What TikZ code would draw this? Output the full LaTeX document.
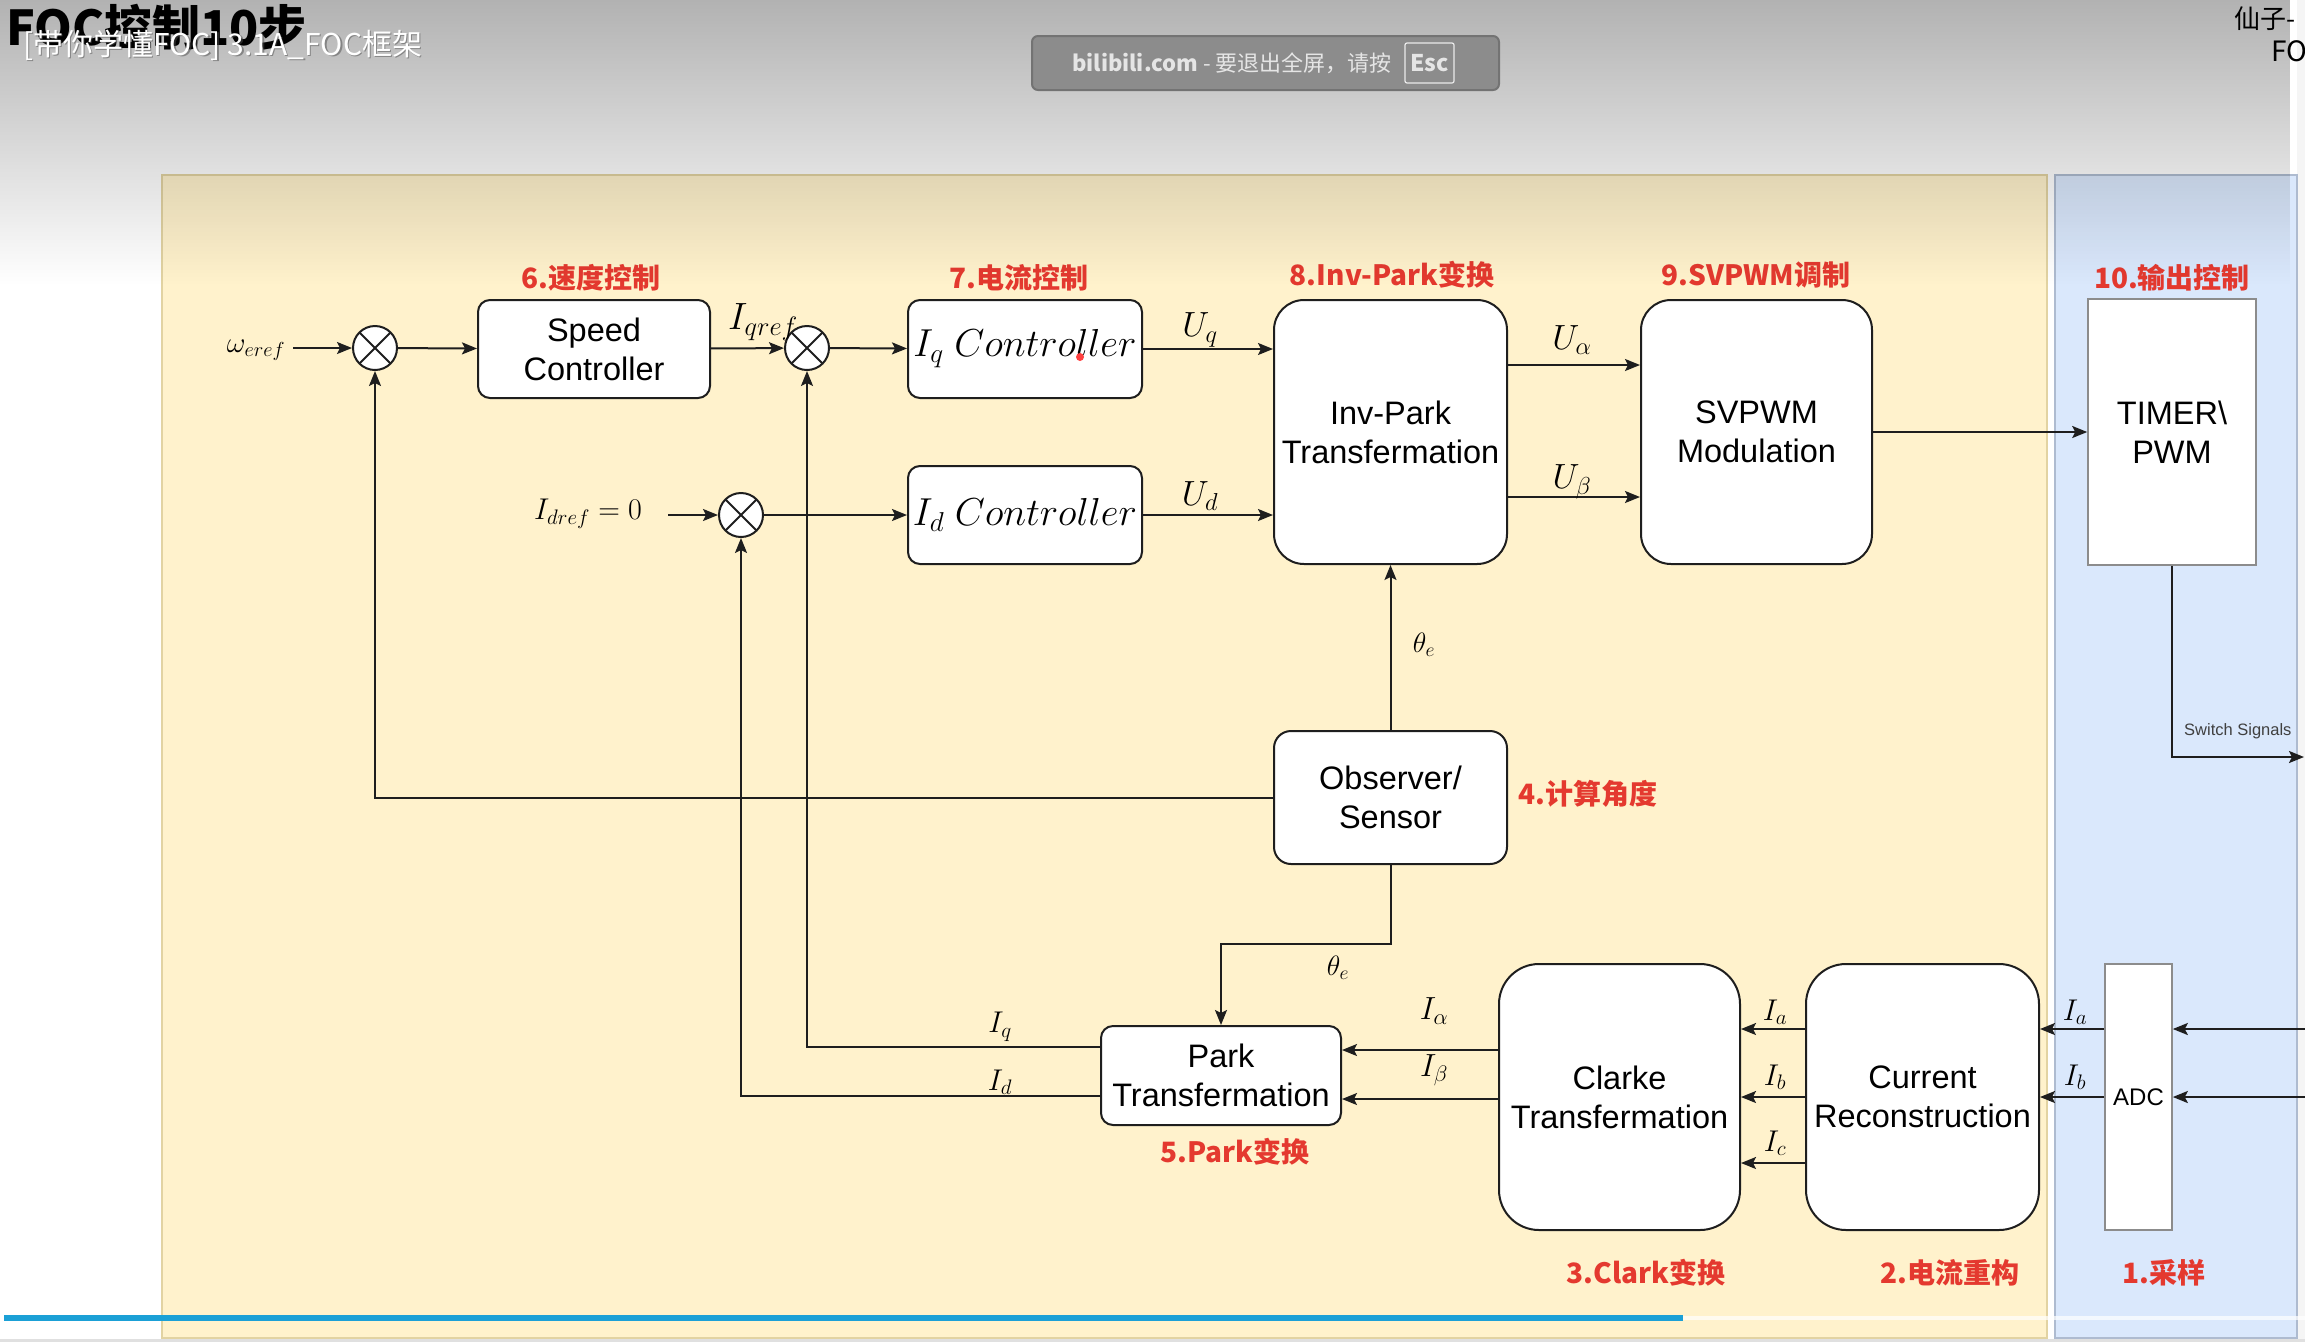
\RequirePackage{fix-cm}
\documentclass[tikz,border=0pt]{standalone}
\usepackage{fontspec}
\setmainfont{Liberation Sans}
\newfontfamily\cjk{Noto Sans CJK SC}
\newfontfamily\arial{Liberation Sans}
\usetikzlibrary{arrows.meta,fadings}
\definecolor{panelY}{HTML}{FFF2CC}
\definecolor{panelYb}{HTML}{E2D3A2}
\definecolor{panelB}{HTML}{DAE8FC}
\definecolor{panelBb}{HTML}{AEBBD0}
\definecolor{redlbl}{RGB}{228,57,47}
\definecolor{linec}{HTML}{1E1E1E}
\definecolor{barblue}{HTML}{1BA0D6}
\tikzfading[name=topfade, top color=transparent!0, bottom color=transparent!100]
\begin{document}
\begin{tikzpicture}[x=1pt,y=-1pt,
  box/.style={draw=linec, line width=2pt, fill=white, align=center, inner sep=0pt,
    font=\arial\fontsize{32.5}{39}\selectfont},
  sqbox/.style={draw=black!45, line width=1.6pt, fill=white, align=center, inner sep=0pt,
    font=\arial\fontsize{32.5}{39}\selectfont},
  sumj/.style={circle, draw=linec, line width=2pt, fill=white, minimum size=44pt, inner sep=0pt,
    path picture={\draw[line width=1.8pt, linec]
      (path picture bounding box.north west) -- (path picture bounding box.south east)
      (path picture bounding box.south west) -- (path picture bounding box.north east);}},
  ln/.style={draw=linec, line width=2pt},
  arr/.style={ln, -{Stealth[length=15pt,width=12pt,inset=3pt]}},
  blbl/.style={inner sep=0pt, font=\fontsize{35}{37}\selectfont},
  mlbl/.style={inner sep=0pt, font=\fontsize{32}{34}\selectfont},
  slbl/.style={inner sep=0pt, font=\fontsize{30}{32}\selectfont},
  tlbl/.style={inner sep=0pt, font=\fontsize{28}{30}\selectfont},
  redt/.style={inner sep=0pt, text=redlbl, font=\cjk\bfseries\fontsize{28}{30}\selectfont},
]
\useasboundingbox (0,0) rectangle (2305,1342);
% background and panels
\fill[white] (0,0) rectangle (2305,1342);
\fill[black!4] (2297,0) rectangle (2305,1342);
\filldraw[fill=panelY, draw=panelYb, line width=1.5pt] (162,175) rectangle (2047,1338);
\filldraw[fill=panelB, draw=panelBb, line width=1.5pt] (2055,175) rectangle (2297,1338);
\fill[black!12] (0,1339) rectangle (2305,1342);

% ---------- blocks ----------
\node[sumj] (sum1) at (375,348) {};
\node[box, rounded corners=12pt, minimum width=232pt, minimum height=98pt] (speed) at (594,349) {Speed\\Controller};
\node[sumj] (sum2) at (807,348) {};
\node[box, rounded corners=12pt, minimum width=234pt, minimum height=98pt, font=\fontsize{39}{44}\selectfont] (iqc) at (1025,349) {$I_q\ Controller$};
\node[sumj] (sum3) at (741,515) {};
\node[box, rounded corners=12pt, minimum width=234pt, minimum height=98pt, font=\fontsize{39}{44}\selectfont] (idc) at (1025,515) {$I_d\ Controller$};
\node[box, rounded corners=30pt, minimum width=233pt, minimum height=264pt] (invpark) at (1390.5,432) {Inv-Park\\Transfermation};
\node[box, rounded corners=30pt, minimum width=231pt, minimum height=264pt] (svpwm) at (1756.5,432) {SVPWM\\Modulation};
\node[sqbox, minimum width=168pt, minimum height=266pt] (timer) at (2172,432) {TIMER\textbackslash\\PWM};
\node[box, rounded corners=17pt, minimum width=233pt, minimum height=133pt] (obs) at (1390.5,797.5) {Observer/\\Sensor};
\node[box, rounded corners=12pt, minimum width=240pt, minimum height=99pt] (park) at (1221,1075.5) {Park\\Transfermation};
\node[box, rounded corners=40pt, minimum width=241pt, minimum height=266pt] (clarke) at (1619.5,1097) {Clarke\\Transfermation};
\node[box, rounded corners=40pt, minimum width=233pt, minimum height=266pt] (currec) at (1922.5,1097) {Current\\Reconstruction};
\node[sqbox, minimum width=67pt, minimum height=266pt, font=\arial\fontsize{24}{28}\selectfont] (adc) at (2138.5,1097) {ADC};

% ---------- input labels ----------
\node[slbl, font=\fontsize{29}{31}\selectfont] (wref) at (256,350) {$\omega_{eref}$};
\node[slbl] (idref) at (588,514) {$I_{dref}=0$};

% ---------- connectors ----------
\draw[arr] (293,348) -- (sum1.west);
\draw[arr] (sum1) -- (speed);
\draw[arr] (speed) -- (sum2);
\draw[arr] (sum2) -- (iqc);
\draw[arr] (iqc.east) -- (iqc.east -| invpark.west);
\draw[arr] (668,515) -- (sum3.west);
\draw[arr] (sum3) -- (idc);
\draw[arr] (idc.east) -- (idc.east -| invpark.west);
\draw[arr] ([yshift=67pt]invpark.east) -- ([yshift=67pt]svpwm.west);
\draw[arr] ([yshift=-65pt]invpark.east) -- ([yshift=-65pt]svpwm.west);
\draw[arr] (svpwm) -- (timer);
\coordinate (sw) at (2304,757);
\draw[arr] (timer.south) |- (sw);
\draw[arr] (obs) -- (invpark);
\draw[arr] (obs.west) -| (sum1.south);
\draw[arr] (obs.south) -- ++(0,79) -| (park.north);
\draw[arr] ([yshift=28.5pt]park.west) -| (sum2.south);
\draw[arr] ([yshift=-20.5pt]park.west) -| (sum3.south);
\draw[arr] ([yshift=47pt]clarke.west) -- ([yshift=47pt]clarke.west -| park.east);
\draw[arr] ([yshift=-2pt]clarke.west) -- ([yshift=-2pt]clarke.west -| park.east);
\draw[arr] ([yshift=68pt]currec.west) -- ([yshift=68pt]clarke.east);
\draw[arr] (currec.west) -- (clarke.east);
\draw[arr] ([yshift=-66pt]currec.west) -- ([yshift=-66pt]clarke.east);
\draw[arr] ([yshift=68pt]adc.west) -- ([yshift=68pt]currec.east);
\draw[arr] (adc.west) -- (currec.east);
\coordinate (in1) at (2305,1029);
\coordinate (in2) at (2305,1097);
\draw[arr] (in1) -- (in1 -| adc.east);
\draw[arr] (in2) -- (in2 -| adc.east);

% ---------- signal labels ----------
\node[blbl, font=\fontsize{38}{40}\selectfont] (lqref) at (763,322) {$I_{qref}$};
\node[blbl] (luq) at (1200,330) {$U_q$};
\node[blbl] (lud) at (1200,496) {$U_d$};
\node[blbl] (lua) at (1572,340) {$U_\alpha$};
\node[blbl] (lub) at (1572,482) {$U_\beta$};
\node[tlbl] (lth1) at (1424,645) {$\theta_e$};
\node[tlbl] (lth2) at (1338,968) {$\theta_e$};
\node[mlbl] (lial) at (1434,1011) {$I_\alpha$};
\node[mlbl] (libe) at (1434,1070) {$I_\beta$};
\node[slbl] (liq) at (1000,1027) {$I_q$};
\node[slbl] (lid) at (1000,1082) {$I_d$};
\node[slbl] (lia1) at (1775,1012) {$I_a$};
\node[slbl] (lib1) at (1775,1077) {$I_b$};
\node[slbl] (lic1) at (1775,1143) {$I_c$};
\node[slbl] (lia2) at (2075,1012) {$I_a$};
\node[slbl] (lib2) at (2075,1077) {$I_b$};
\node[inner sep=0pt, text=black!75, font=\arial\fontsize{16.5}{18}\selectfont, anchor=west] (lsw) at (2184,731) {Switch Signals};

% ---------- red step labels ----------
\node[redt] (s6) at (591,278) {6.速度控制};
\node[redt] (s7) at (1019,278) {7.电流控制};
\node[redt] (s8) at (1392,275) {8.Inv-Park变换};
\node[redt] (s9) at (1756,275) {9.SVPWM调制};
\node[redt] (s10) at (2172,278) {10.输出控制};
\node[redt, anchor=west] (s4) at (1518,794) {4.计算角度};
\node[redt] (s5) at (1235,1152) {5.Park变换};
\node[redt] (s3) at (1646,1273) {3.Clark变换};
\node[redt] (s2) at (1950,1273) {2.电流重构};
\node[redt] (s1) at (2164,1273) {1.采样};

% cursor dot
\fill[red!75!white] (1080,357) circle (4);

% ---------- video overlay ----------
\fill[black, opacity=0.3, path fading=topfade] (0,0) rectangle (2305,285);
\node[anchor=base west, inner sep=0pt, font=\cjk\bfseries\fontsize{48}{50}\selectfont] (title) at (6,45) {FOC控制10步};
\node[anchor=base west, inner sep=0pt, text=black!70, opacity=0.5, font=\cjk\fontsize{30}{32}\selectfont] (subsh) at (24.5,56.5) {[带你学懂FOC] 3.1A\_FOC框架};
\node[anchor=base west, inner sep=0pt, text=white, font=\cjk\fontsize{30}{32}\selectfont] (sub) at (23,55) {[带你学懂FOC] 3.1A\_FOC框架};
\filldraw[fill=black!45, draw=black!55, line width=2pt, rounded corners=6pt] (1032,36) rectangle (1499,90);
\node[anchor=west, inner sep=0pt, text=black!10, font=\cjk\fontsize{22}{24}\selectfont] (bili) at (1072,63) {{\bfseries bilibili.com} - 要退出全屏，请按};
\node[draw=black!8, line width=1.2pt, rounded corners=2pt, minimum width=49pt, minimum height=40pt, inner sep=0pt, text=black!10, font=\cjk\bfseries\fontsize{23}{25}\selectfont] (esc) at (1429.5,63) {Esc};
\node[anchor=base west, inner sep=0pt, font=\cjk\fontsize{26}{28}\selectfont] (tr1) at (2234,28) {仙子-};
\node[anchor=base west, inner sep=0pt, font=\cjk\fontsize{28}{30}\selectfont] (tr2) at (2271,61) {FO};
% progress bar
\fill[white, opacity=0.7] (1683,1316) rectangle (2305,1320);
\fill[barblue] (4,1315) rectangle (1683,1321);
\end{tikzpicture}
\end{document}
